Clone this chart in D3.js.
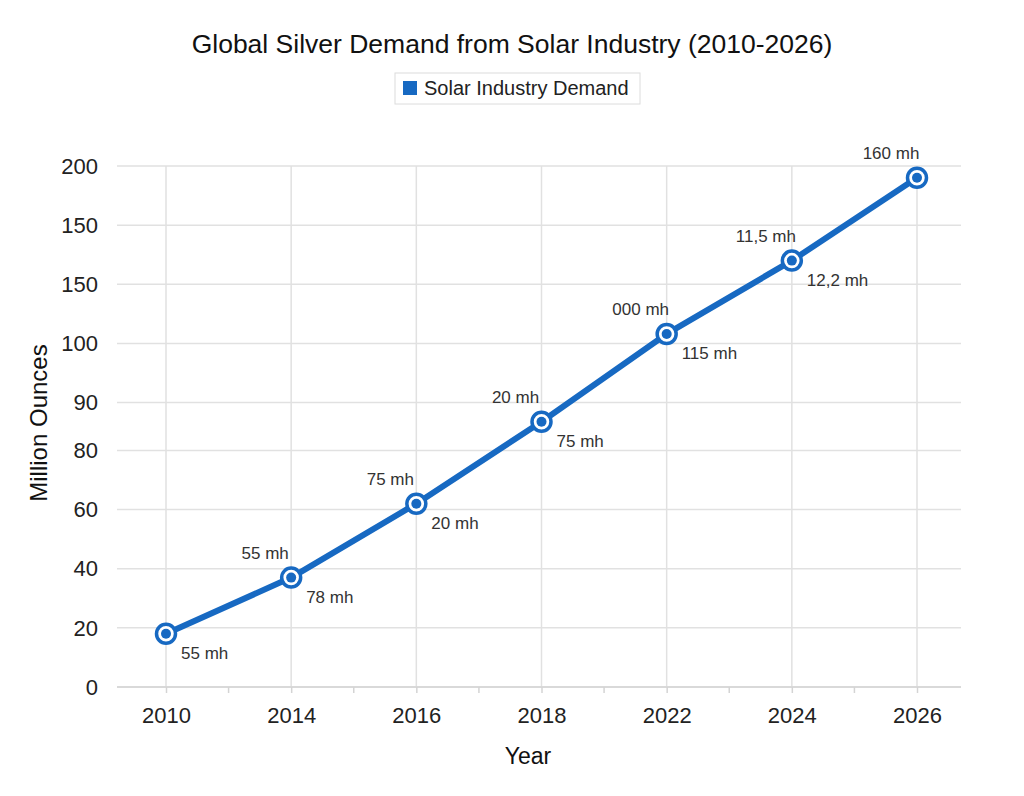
<!DOCTYPE html>
<html>
<head>
<meta charset="utf-8">
<script src="https://cdn.jsdelivr.net/npm/d3@7"></script>
<style>
  body { margin: 0; background: #fff; }
  text { font-family: "Liberation Sans", Arial, sans-serif; }
</style>
</head>
<body>
<svg id="chart" width="1024" height="796"></svg>
<script>
// chart data
let years = ["2010", "2014", "2016", "2018", "2022", "2024", "2026"]
let demand = [18, 37, 62, 86, 108, 160, 195]
let labelsAbove = ["", "55 mh", "75 mh", "20 mh", "000 mh", "11,5 mh", "160 mh"]
let labelsBelow = ["55 mh", "78 mh", "20 mh", "75 mh", "115 mh", "12,2 mh", ""]
let yTickValues = [0, 20, 40, 60, 80, 90, 100, 150, 175, 200]
let yTickLabels = ["0", "20", "40", "60", "80", "90", "100", "150", "150", "200"]

let blue = "#1769c2"
let margin = {left: 117, right: 63, top: 166, bottom: 109}
let width = 1024 - margin.left - margin.right
let height = 796 - margin.top - margin.bottom

let svg = d3.select("#chart")

// x is categorical, evenly spaced
let x = d3.scalePoint()
    .domain(years)
    .range([49, 800])

// y ticks sit on an (almost) even grid, the 80-90 step is a bit shorter
let steps = yTickValues.map((d, i) => i == 0 ? 0 : (d - yTickValues[i - 1] == 10 && yTickValues[i - 1] == 80 ? 0.81 : 1))
let cum = d3.cumsum(steps)
let yIndex = d3.scaleLinear().domain([0, cum[cum.length - 1]]).range([height, 0])
let y = d3.scaleLinear()
    .domain(yTickValues)
    .range(Array.from(cum, c => yIndex(c)))

let g = svg.append("g")
    .attr("transform", "translate(" + margin.left + "," + margin.top + ")")

// horizontal grid
g.append("g")
    .selectAll("line").data(yTickValues).join("line")
    .attr("x1", 0).attr("x2", width)
    .attr("y1", d => y(d)).attr("y2", d => y(d))
    .attr("stroke", "#e1e1e1")
    .attr("stroke-width", 1.5)

// vertical grid
g.append("g")
    .selectAll("line").data(years).join("line")
    .attr("x1", d => x(d)).attr("x2", d => x(d))
    .attr("y1", 0).attr("y2", height)
    .attr("stroke", "#e1e1e1")
    .attr("stroke-width", 1.5)

// x-axis
let xAxis = g.append("g")
    .attr("transform", "translate(0," + height + ")")
    .call(d3.axisBottom(x).tickSize(6).tickPadding(14))
xAxis.select(".domain").attr("stroke", "#d4d4d4").attr("stroke-width", 1.5)
    .attr("d", "M0,0H" + width)
xAxis.selectAll(".tick line").attr("stroke", "#d4d4d4").attr("stroke-width", 1.5)
xAxis.selectAll(".tick text")
    .attr("font-size", 22)
    .attr("fill", "#222")

// minor ticks between the years
let mids = d3.pairs(years).map(p => (x(p[0]) + x(p[1])) / 2)
xAxis.selectAll(".minor").data(mids).join("line")
    .attr("class", "minor")
    .attr("x1", d => d).attr("x2", d => d)
    .attr("y1", 0).attr("y2", 6)
    .attr("stroke", "#d4d4d4")
    .attr("stroke-width", 1.5)

// y-axis labels
g.append("g")
    .selectAll("text").data(yTickValues).join("text")
    .attr("x", -19)
    .attr("y", d => y(d))
    .attr("dy", "0.35em")
    .attr("text-anchor", "end")
    .attr("font-size", 22)
    .attr("fill", "#222")
    .text((d, i) => yTickLabels[i])

// axis titles
svg.append("text")
    .attr("x", 528)
    .attr("y", 764)
    .attr("text-anchor", "middle")
    .attr("font-size", 23)
    .attr("fill", "#111")
    .text("Year")

svg.append("text")
    .attr("transform", "translate(47,423) rotate(-90)")
    .attr("text-anchor", "middle")
    .attr("font-size", 24)
    .attr("fill", "#111")
    .text("Million Ounces")

// title
svg.append("text")
    .attr("x", 512)
    .attr("y", 53)
    .attr("text-anchor", "middle")
    .attr("font-size", 26.5)
    .attr("fill", "#111")
    .text("Global Silver Demand from Solar Industry (2010-2026)")

// legend
let legend = svg.append("g").attr("transform", "translate(395,73)")
legend.append("rect")
    .attr("width", 245).attr("height", 31)
    .attr("fill", "#fff")
    .attr("stroke", "#dcdcdc")
legend.append("rect")
    .attr("x", 8).attr("y", 8)
    .attr("width", 14).attr("height", 14)
    .attr("fill", blue)
legend.append("text")
    .attr("x", 29).attr("y", 22)
    .attr("font-size", 20)
    .attr("fill", "#222")
    .text("Solar Industry Demand")

// line
let points = years.map((d, i) => ({year: d, value: demand[i], above: labelsAbove[i], below: labelsBelow[i]}))
let line = d3.line().x(d => x(d.year)).y(d => y(d.value))

g.append("path")
    .datum(points)
    .attr("d", line)
    .attr("fill", "none")
    .attr("stroke", blue)
    .attr("stroke-width", 6)
    .attr("stroke-linejoin", "round")

// markers
let marks = g.selectAll(".pt").data(points).join("g")
    .attr("class", "pt")
    .attr("transform", d => "translate(" + x(d.year) + "," + y(d.value) + ")")
marks.append("circle")
    .attr("r", 9.5)
    .attr("fill", "#fff")
    .attr("stroke", blue)
    .attr("stroke-width", 3.5)
marks.append("circle")
    .attr("r", 5)
    .attr("fill", blue)

// data labels
marks.append("text")
    .attr("x", -26).attr("y", -19)
    .attr("text-anchor", "middle")
    .attr("font-size", 17)
    .attr("fill", "#333")
    .text(d => d.above)
marks.append("text")
    .attr("x", 15).attr("y", 25)
    .attr("font-size", 17)
    .attr("fill", "#333")
    .text(d => d.below)
</script>
</body>
</html>
